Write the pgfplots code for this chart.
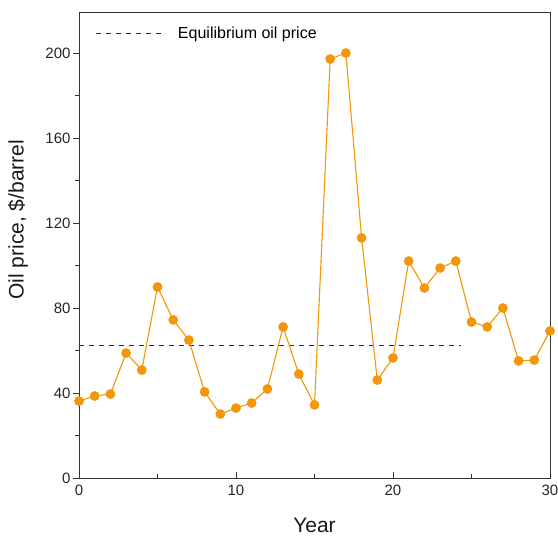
\documentclass[border=0pt]{standalone}
\usepackage{pgfplots}
\pgfplotsset{compat=1.18}
\usepackage{fontspec}
\setmainfont{Liberation Sans}
\definecolor{oilorange}{RGB}{243,150,8}
\definecolor{eqblue}{RGB}{25,25,200}
\begin{document}
\begin{tikzpicture}[x=1pt,y=1pt]
\path[use as bounding box] (0,0) rectangle (558,536);
\begin{axis}[
  at={(79pt,58pt)}, anchor=south west,
  scale only axis, width=471pt, height=466pt,
  xmin=0, xmax=30, ymin=0, ymax=219.3,
  xtick={0,10,20,30}, minor xtick={5,15,25},
  ytick={0,40,80,120,160,200}, minor ytick={20,60,100,140,180},
  axis line style={black!80, line width=0.8pt},
  xtick pos=bottom, ytick pos=left,
  tick align=inside,
  tick style={black!80, line width=0.8pt},
  every major y tick/.append style={xshift=-6pt},
  every minor y tick/.append style={xshift=-3.5pt},
  major tick length=6pt, minor tick length=3.5pt,
  tick label style={font=\fontsize{15}{17}\selectfont, text=black!85},
  /pgf/number format/assume math mode=true,
  xticklabel style={yshift=-3pt},
  yticklabel style={xshift=-5pt},
  xlabel={Year}, ylabel={Oil price, \$/barrel},
  label style={font=\fontsize{21}{24}\selectfont, text=black!90},
  xlabel style={at={(axis description cs:0.5,0)}, anchor=center, yshift=-47pt},
  ylabel style={at={(axis description cs:0,0.554)}, anchor=center, yshift=61pt},
  legend style={draw=none, fill=none, at={(axis description cs:0,1)}, anchor=north west, xshift=13pt, yshift=-11pt, font=\fontsize{16}{18}\selectfont},
  legend cell align=left,
  legend image code/.code={\draw[#1] (0pt,0pt) -- (70pt,0pt); \path (80pt,0pt);},
]
\addplot[eqblue, line width=0.8pt, dash pattern=on 5pt off 5pt, forget plot] coordinates {(0,62.6) (24.3,62.6)};
\addlegendimage{eqblue, line width=0.8pt, dash pattern=on 5pt off 5pt}
\addlegendentry{Equilibrium oil price}
\addplot[oilorange, line width=1.1pt, mark=*, mark size=4.3pt, mark options={fill=oilorange, draw=oilorange}] coordinates {
(0,36.2) (1,38.6) (2,39.5) (3,58.8) (4,50.8) (5,89.9) (6,74.4) (7,64.9) (8,40.5) (9,30.1)
(10,32.9) (11,35.3) (12,41.9) (13,71.1) (14,48.9) (15,34.4) (16,197.2) (17,200) (18,113) (19,46.1)
(20,56.5) (21,102.1) (22,89.4) (23,98.8) (24,102.1) (25,73.4) (26,71.1) (27,80) (28,55.1) (29,55.5) (30,69.2)
};
\end{axis}
\end{tikzpicture}
\end{document}
